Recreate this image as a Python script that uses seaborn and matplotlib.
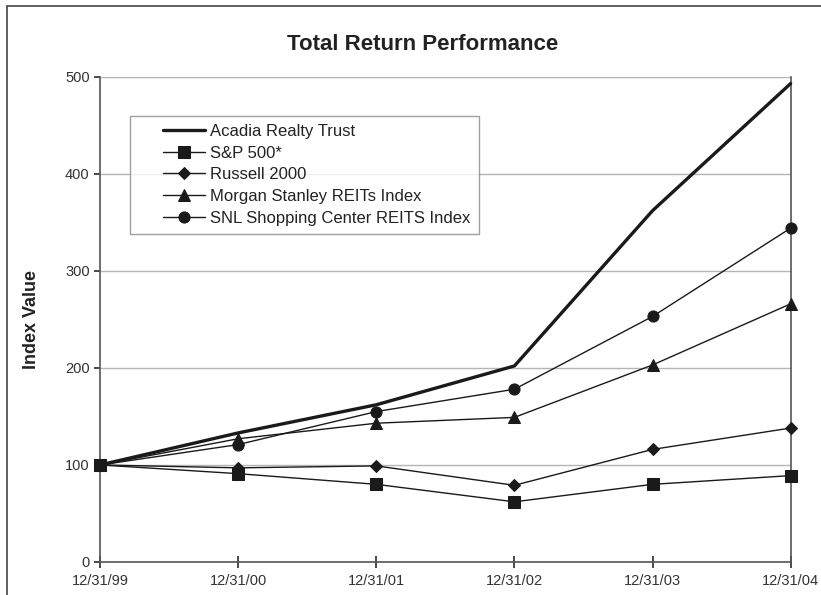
import matplotlib; matplotlib.use("Agg")
import matplotlib.pyplot as plt
import matplotlib.patches as mpatches
from matplotlib.lines import Line2D
from matplotlib.legend_handler import HandlerLine2D
import seaborn as sns
import pandas as pd

# ── Data ──────────────────────────────────────────────────────────────────
DATES    = ["12/31/99", "12/31/00", "12/31/01", "12/31/02", "12/31/03", "12/31/04"]
ACADIA   = [100, 133, 162, 202, 362, 493]
SP500    = [100, 91, 80, 62, 80, 89]
RUSSELL  = [100, 97, 99, 79, 116, 138]
MSREIT   = [100, 127, 143, 149, 203, 266]
SNL      = [100, 121, 155, 178, 253, 344]

SERIES = [
    ("Acadia Realty Trust",              ACADIA,  None, 2.4),
    ("S&P 500*",                         SP500,   "s",  1.0),
    ("Russell 2000",                     RUSSELL, "D",  1.0),
    ("Morgan Stanley REITs Index",       MSREIT,  "^",  1.0),
    ("SNL Shopping Center REITS Index",  SNL,     "o",  1.0),
]

sns.set_theme(style="white")
plt.rcParams["font.family"] = ["Liberation Sans", "DejaVu Sans"]

fig = plt.figure(figsize=(8.21, 5.95), dpi=100)
ax = fig.add_axes([0.122, 0.0555, 0.841, 0.8155])

for name, vals, mk, lw in SERIES:
    df = pd.DataFrame({"x": range(len(DATES)), "y": vals})
    sns.lineplot(data=df, x="x", y="y", ax=ax, color="#1a1a1a", linewidth=lw,
                 marker=mk, markersize=8 if mk != "D" else 6.5,
                 markeredgecolor="#1a1a1a", label=name, clip_on=False, zorder=3)

ax.set_xlim(0, len(DATES) - 1)
ax.set_ylim(0, 500)
ax.set_xticks(range(len(DATES)))
ax.set_xticklabels(DATES)
ax.set_yticks(range(0, 501, 100))
ax.yaxis.grid(True, color="#b5b5b5", linewidth=1)
ax.set_axisbelow(True)
ax.tick_params(axis="both", labelsize=10.5, colors="#333333", length=4,
               direction="out", bottom=True, left=True)
ax.tick_params(axis="x", direction="inout", length=8, pad=5)

for side in ["left", "bottom", "right"]:
    ax.spines[side].set_color("#555555")
    ax.spines[side].set_linewidth(1.2)
ax.spines["top"].set_visible(False)

ax.set_xlabel("")
ax.set_ylabel("Index Value", fontsize=13, fontweight="bold", labelpad=18,
              color="#222222")
fig.text(0.515, 0.925, "Total Return Performance", ha="center", va="center",
         fontsize=16, fontweight="bold", color="#222222")

leg = ax.legend(loc="upper left", bbox_to_anchor=(0.043, 0.92), fontsize=12,
                frameon=True, fancybox=False, edgecolor="#888888",
                handlelength=4.0, handletextpad=0.3, borderpad=0.5,
                labelspacing=0.4, borderaxespad=0,
                handler_map={Line2D: HandlerLine2D(xpad=1.5)})
leg.get_frame().set_linewidth(1.0)
for t in leg.get_texts():
    t.set_color("#222222")

# outer frame
fig.patches.append(mpatches.Rectangle((0.008, -0.01), 1.2, 1.0, transform=fig.transFigure,
                                      fill=False, edgecolor="#444444", linewidth=1.2))

fig.savefig("out.png", dpi=100)
